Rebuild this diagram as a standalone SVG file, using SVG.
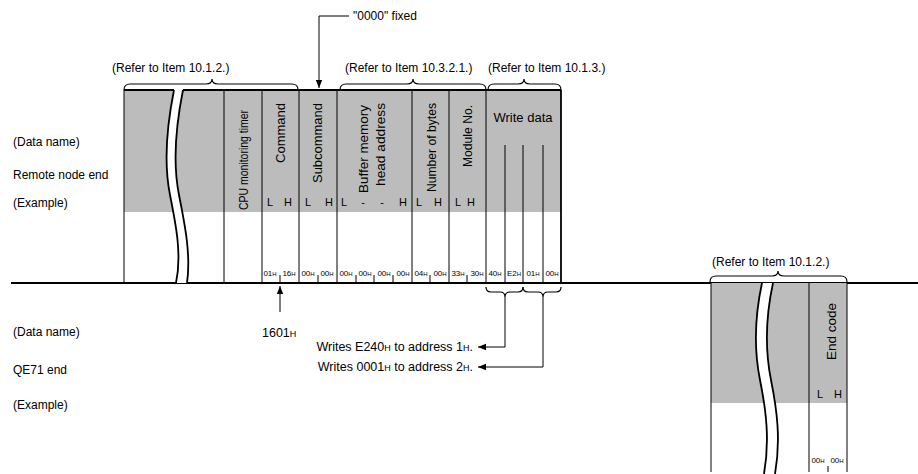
<svg xmlns="http://www.w3.org/2000/svg" width="918" height="474" viewBox="0 0 918 474">
<style>
text{font-family:"Liberation Sans",Arial,sans-serif;fill:#000}
.lbl{font-size:12px}
.rot{font-size:13px}
.lh{font-size:11px;text-anchor:middle}
.val{font-size:8px;text-anchor:middle}
.sub{font-size:6px}
.ln{stroke:#000;stroke-width:1;fill:none}
.bd{stroke:#000;stroke-width:1.8;fill:none}
.sh{fill:#bcbcbc}
.br{stroke:#000;stroke-width:1.2;fill:none}
</style>
<defs>
<marker id="ah" viewBox="0 0 10 10" refX="10" refY="5" markerWidth="8" markerHeight="8" orient="auto" markerUnits="userSpaceOnUse">
<path d="M0,1 L10,5 L0,9 Z" fill="#000"/>
</marker>
</defs>
<rect width="918" height="474" fill="#fff"/>

<g id="side-labels" class="lbl">
<text x="13" y="146">(Data name)</text>
<text x="13" y="179">Remote node end</text>
<text x="13" y="207">(Example)</text>
<text x="13" y="336">(Data name)</text>
<text x="13" y="374">QE71 end</text>
<text x="13" y="409">(Example)</text>
</g>

<g id="main-line">
<line x1="11" y1="283" x2="918" y2="283" class="bd"/>
</g>

<g id="remote-frame">
<rect x="124" y="90" width="437" height="122" class="sh"/>
<path d="M174,90 C166,130 164,165 170,195 C176,225 182,255 176,283 L187,283 C191,255 185,225 179,195 C173,165 175,130 183,90 Z" fill="#fff"/>
<path d="M174,90 C166,130 164,165 170,195 C176,225 182,255 176,283" class="bd"/>
<path d="M183,90 C175,130 173,165 179,195 C185,225 191,255 187,283" class="bd"/>
<line x1="124" y1="90" x2="174" y2="90" class="bd"/>
<line x1="183" y1="90" x2="561" y2="90" class="bd"/>
<line x1="124" y1="90" x2="124" y2="283" class="ln"/>
<line x1="224" y1="90" x2="224" y2="283" class="ln"/>
<line x1="262" y1="90" x2="262" y2="283" class="ln"/>
<line x1="299" y1="90" x2="299" y2="283" class="ln"/>
<line x1="337" y1="90" x2="337" y2="283" class="ln"/>
<line x1="412" y1="90" x2="412" y2="283" class="ln"/>
<line x1="449" y1="90" x2="449" y2="283" class="ln"/>
<line x1="486" y1="90" x2="486" y2="283" class="ln"/>
<line x1="505" y1="145" x2="505" y2="283" class="ln"/>
<line x1="523" y1="145" x2="523" y2="283" class="ln"/>
<line x1="543" y1="145" x2="543" y2="283" class="ln"/>
<line x1="561" y1="90" x2="561" y2="283" class="bd"/>
<g class="ln">
<line x1="280" y1="275" x2="280" y2="283"/>
<line x1="318" y1="275" x2="318" y2="283"/>
<line x1="356" y1="275" x2="356" y2="283"/>
<line x1="374" y1="275" x2="374" y2="283"/>
<line x1="393" y1="275" x2="393" y2="283"/>
<line x1="430" y1="275" x2="430" y2="283"/>
<line x1="467" y1="275" x2="467" y2="283"/>
</g>
<g class="rot" text-anchor="end" lengthAdjust="spacingAndGlyphs">
<text transform="translate(248,110) rotate(-90)" font-size="12.5" textLength="100" lengthAdjust="spacingAndGlyphs">CPU monitoring timer</text>
<text transform="translate(285,103) rotate(-90)" textLength="60" lengthAdjust="spacingAndGlyphs">Command</text>
<text transform="translate(322,103) rotate(-90)" textLength="80" lengthAdjust="spacingAndGlyphs">Subcommand</text>
<text transform="translate(368,105) rotate(-90)" textLength="88" lengthAdjust="spacingAndGlyphs">Buffer memory</text>
<text transform="translate(385,103) rotate(-90)" textLength="83" lengthAdjust="spacingAndGlyphs">head address</text>
<text transform="translate(436,103) rotate(-90)" textLength="89" lengthAdjust="spacingAndGlyphs">Number of bytes</text>
<text transform="translate(472,105) rotate(-90)" textLength="62" lengthAdjust="spacingAndGlyphs">Module No.</text>
</g>
<text x="523" y="122" class="rot" text-anchor="middle">Write data</text>
<g class="lh">
<text x="270" y="206">L</text><text x="288" y="206">H</text>
<text x="308" y="206">L</text><text x="329" y="206">H</text>
<text x="344" y="206">L</text><text x="363" y="206">-</text><text x="382" y="206">-</text><text x="403" y="206">H</text>
<text x="419" y="206">L</text><text x="438" y="206">H</text>
<text x="458" y="206">L</text><text x="471" y="206">H</text>
</g>
<g class="val">
<text x="270" y="276">01<tspan class="sub">H</tspan></text>
<text x="289" y="276">16<tspan class="sub">H</tspan></text>
<text x="308" y="276">00<tspan class="sub">H</tspan></text>
<text x="327" y="276">00<tspan class="sub">H</tspan></text>
<text x="346" y="276">00<tspan class="sub">H</tspan></text>
<text x="365" y="276">00<tspan class="sub">H</tspan></text>
<text x="384" y="276">00<tspan class="sub">H</tspan></text>
<text x="403" y="276">00<tspan class="sub">H</tspan></text>
<text x="421" y="276">04<tspan class="sub">H</tspan></text>
<text x="440" y="276">00<tspan class="sub">H</tspan></text>
<text x="458" y="276">33<tspan class="sub">H</tspan></text>
<text x="477" y="276">30<tspan class="sub">H</tspan></text>
<text x="495" y="276">40<tspan class="sub">H</tspan></text>
<text x="514" y="276">E2<tspan class="sub">H</tspan></text>
<text x="533" y="276">01<tspan class="sub">H</tspan></text>
<text x="552" y="276">00<tspan class="sub">H</tspan></text>
</g>
</g>

<g id="qe71-frame">
<rect x="711" y="283" width="136" height="120" class="sh"/>
<path d="M762,283 C754,320 754,350 760,380 C766,410 770,440 764,474 L775,474 C781,440 777,410 771,380 C765,350 765,320 773,283 Z" fill="#fff"/>
<path d="M762,283 C754,320 754,350 760,380 C766,410 770,440 764,474" class="bd"/>
<path d="M773,283 C765,320 765,350 771,380 C777,410 781,440 775,474" class="bd"/>
<line x1="711" y1="283" x2="711" y2="472" class="ln"/>
<line x1="809" y1="283" x2="809" y2="472" class="ln"/>
<line x1="847" y1="283" x2="847" y2="472" class="ln"/>
<text transform="translate(836,303) rotate(-90)" class="rot" text-anchor="end" textLength="57" lengthAdjust="spacingAndGlyphs">End code</text>
<text x="820" y="398" class="lh">L</text><text x="838" y="398" class="lh">H</text>
<text x="818" y="463" class="val">00<tspan class="sub">H</tspan></text>
<text x="837" y="463" class="val">00<tspan class="sub">H</tspan></text>
<line x1="828" y1="466" x2="828" y2="472" class="ln"/>
</g>

<g id="references" class="lbl">
<text x="112" y="72">(Refer to Item 10.1.2.)</text>
<text x="345" y="72">(Refer to Item 10.3.2.1.)</text>
<text x="488" y="72">(Refer to Item 10.1.3.)</text>
<text x="712" y="266">(Refer to Item 10.1.2.)</text>
<text x="353" y="20">"0000" fixed</text>
<text x="262" y="337" font-size="12.5">1601<tspan font-size="9">H</tspan></text>
<text x="473" y="351" text-anchor="end" font-size="12.5">Writes E240<tspan font-size="9">H</tspan> to address 1<tspan font-size="9">H</tspan>.</text>
<text x="473" y="371" text-anchor="end" font-size="12.5">Writes 0001<tspan font-size="9">H</tspan> to address 2<tspan font-size="9">H</tspan>.</text>
</g>

<g id="braces" class="br">
<path d="M124,90 Q124,84 130,84 L206,84 Q212,84 212,79 Q212,84 218,84 L292,84 Q298,84 298,90"/>
<path d="M340,90 Q340,84 346,84 L407,84 Q413,84 413,79 Q413,84 419,84 L480,84 Q486,84 486,90"/>
<path d="M488,90 Q488,84 494,84 L518,84 Q524,84 524,79 Q524,84 530,84 L555,84 Q561,84 561,90"/>
<path d="M710,282 Q710,276 716,276 L772,276 Q778,276 778,271 Q778,276 784,276 L841,276 Q847,276 847,282"/>
<path d="M486,287 Q486,292 491,292 L500,292 Q505,292 505,297 Q505,292 510,292 L518,292 Q523,292 523,287"/>
<path d="M523,287 Q523,292 528,292 L538,292 Q543,292 543,297 Q543,292 548,292 L556,292 Q561,292 561,287"/>
</g>

<g id="connectors" class="ln">
<path d="M349,16 H319 V88" marker-end="url(#ah)"/>
<path d="M280,312 V286" marker-end="url(#ah)"/>
<path d="M505,297 V347 H478" marker-end="url(#ah)"/>
<path d="M543,297 V367 H478" marker-end="url(#ah)"/>
</g>
</svg>
